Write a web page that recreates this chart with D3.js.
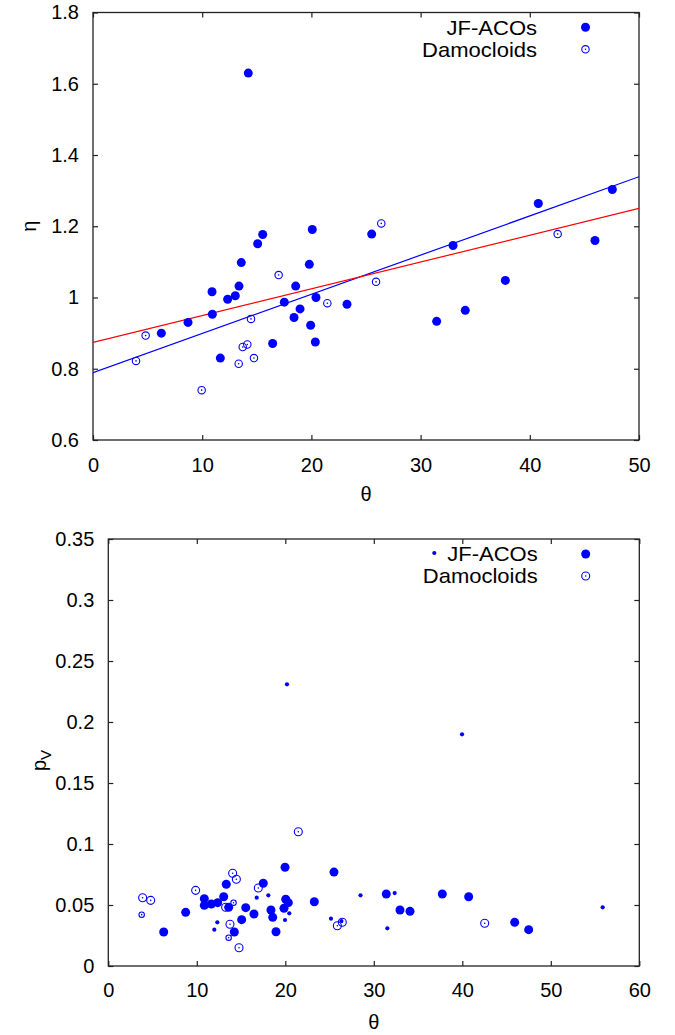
<!DOCTYPE html>
<html>
<head>
<meta charset="utf-8">
<script src="https://cdn.jsdelivr.net/npm/d3@7"></script>
<style>
  html, body { margin: 0; padding: 0; background: #fff; }
  svg { display: block; }
  text { font-family: "Liberation Sans", Arial, Helvetica, sans-serif; fill: #000; }
</style>
</head>
<body>
<svg id="fig" width="675" height="1035"></svg>
<script>
// ---- Upper panel: eta vs theta ----
const jfTheta = [6.26, 8.70, 10.90, 10.93, 11.66, 12.33, 13.03, 13.37, 13.58, 14.22, 15.08, 15.54, 16.45, 17.52, 18.41, 18.56, 18.96, 19.81, 19.93, 20.08, 20.36, 20.42, 23.26, 25.52, 31.47, 32.97, 34.09, 37.76, 40.78, 45.97, 47.56];
const jfEta   = [0.900, 0.930, 1.016, 0.953, 0.830, 0.995, 1.005, 1.032, 1.098, 1.630, 1.151, 1.177, 0.871, 0.987, 0.944, 1.032, 0.968, 1.093, 0.922, 1.191, 0.875, 1.000, 0.981, 1.178, 0.933, 1.146, 0.964, 1.048, 1.264, 1.160, 1.303];

const damTheta = [3.94, 4.82, 9.95, 13.34, 13.71, 14.13, 14.47, 14.74, 17.00, 21.46, 25.92, 26.40, 42.55];
const damEta   = [0.822, 0.893, 0.740, 0.814, 0.861, 0.868, 0.940, 0.830, 1.063, 0.984, 1.044, 1.208, 1.178];

// linear fits eta = a + b*theta
const fitNames      = ["all", "JF-ACOs"];
const fitIntercepts = [0.789, 0.874];
const fitSlopes     = [0.0110, 0.00752];
const fitColors     = ["#0000ff", "#ff0000"];

const etaTicks   = [0.6, 0.8, 1.0, 1.2, 1.4, 1.6, 1.8];
const thetaTicks1 = [0, 10, 20, 30, 40, 50];

// ---- Lower panel: albedo vs theta ----
const pvBigTheta = [6.26, 8.74, 10.85, 10.85, 11.64, 12.36, 13.04, 13.33, 13.60, 14.24, 15.07, 15.53, 16.46, 17.51, 18.38, 18.58, 18.95, 19.85, 19.97, 20.05, 20.34, 23.28, 25.50, 31.41, 32.96, 34.09, 37.74, 40.72, 45.92, 47.50];
const pvBig      = [0.0279, 0.0440, 0.0552, 0.0497, 0.0508, 0.0519, 0.0568, 0.0670, 0.0481, 0.0279, 0.0380, 0.0478, 0.0426, 0.0678, 0.0459, 0.0399, 0.0281, 0.0473, 0.0809, 0.0547, 0.0519, 0.0527, 0.0770, 0.0590, 0.0459, 0.0448, 0.0590, 0.0568, 0.0358, 0.0298];

const pvSmallTheta = [11.98, 12.32, 16.77, 18.08, 19.97, 20.19, 20.45, 25.16, 26.34, 28.50, 31.53, 32.36, 39.97, 55.86];
const pvSmall      = [0.0298, 0.0358, 0.0560, 0.0579, 0.0377, 0.2309, 0.0432, 0.0388, 0.0369, 0.0579, 0.0309, 0.0598, 0.1899, 0.0481];

const pvDamTheta = [3.88, 4.79, 9.87, 13.26, 13.75, 14.05, 14.47, 14.77, 16.95, 21.47, 25.88, 26.44, 42.53];
const pvDam      = [0.0560, 0.0538, 0.0620, 0.0481, 0.0342, 0.0760, 0.0711, 0.0150, 0.0639, 0.1101, 0.0330, 0.0358, 0.0350];

const pvDamSmallTheta = [3.77, 13.60, 14.15];
const pvDamSmall      = [0.0421, 0.0232, 0.0519];

const pvTicks     = [0, 0.05, 0.1, 0.15, 0.2, 0.25, 0.3, 0.35];
const thetaTicks2 = [0, 10, 20, 30, 40, 50, 60];

const legendLabels = ["JF-ACOs", "Damocloids"];

// ---- drawing ----
const BLUE = "#0000ff";
const FONT = 20;
const svg = d3.select("#fig");
const zip = (a, b) => a.map((v, i) => [v, b[i]]);

function frame(g, x, y, xTicks, yTicks, yFmt, xPad) {
  const [x0, x1] = x.range();
  const [y0, y1] = y.range();
  const tk = 5;
  const axL = g.append("g").attr("transform", `translate(${x0},0)`)
    .call(d3.axisLeft(y).tickValues(yTicks).tickSize(-tk).tickPadding(14).tickFormat(yFmt));
  const axR = g.append("g").attr("transform", `translate(${x1},0)`)
    .call(d3.axisRight(y).tickValues(yTicks).tickSize(-tk).tickFormat(""));
  const axB = g.append("g").attr("transform", `translate(0,${y0})`)
    .call(d3.axisBottom(x).tickValues(xTicks).tickSize(-tk).tickPadding(xPad).tickFormat(d3.format("d")));
  const axT = g.append("g").attr("transform", `translate(0,${y1})`)
    .call(d3.axisTop(x).tickValues(xTicks).tickSize(-tk).tickFormat(""));
  [axL, axR, axB, axT].forEach(a => {
    a.select(".domain").remove();
    a.selectAll("line").attr("stroke", "#222").attr("stroke-width", 1.2);
    a.selectAll("text").attr("font-size", FONT)
      .attr("font-family", "'Liberation Sans', Arial, Helvetica, sans-serif").attr("fill", "#000");
  });
  g.append("rect")
    .attr("x", x0).attr("y", y1).attr("width", x1 - x0).attr("height", y0 - y1)
    .attr("fill", "none").attr("stroke", "#222").attr("stroke-width", 1.3);
}

function filled(g, pts, x, y, r) {
  g.append("g").selectAll("circle").data(pts).join("circle")
    .attr("cx", d => x(d[0])).attr("cy", d => y(d[1])).attr("r", r).attr("fill", BLUE);
}
function ringed(g, pts, x, y, r) {
  const s = g.append("g").selectAll("g").data(pts).join("g")
    .attr("transform", d => `translate(${x(d[0])},${y(d[1])})`);
  s.append("circle").attr("r", r).attr("fill", "none").attr("stroke", BLUE).attr("stroke-width", 1.1);
  s.append("circle").attr("r", 0.8).attr("fill", BLUE);
}
// legend entry text: right-aligned, slightly wide glyphs
function legendText(g, xr, yb, label) {
  g.append("g").attr("transform", `translate(${xr},${yb}) scale(1.1,1)`)
    .append("text").attr("text-anchor", "end").attr("font-size", FONT).text(label);
}

const gnuFmt = d => d3.format("~g")(d);

// Upper panel
{
  const x = d3.scaleLinear().domain([0, 50]).range([93, 639]);
  const y = d3.scaleLinear().domain([0.6, 1.8]).range([440, 12.5]);
  const g = svg.append("g");
  frame(g, x, y, thetaTicks1, etaTicks, gnuFmt, 18);

  g.append("clipPath").attr("id", "clipTop")
    .append("rect").attr("x", 93).attr("y", 12.5).attr("width", 546).attr("height", 427.5);
  const fits = g.append("g").attr("clip-path", "url(#clipTop)");
  fitNames.forEach((n, i) => {
    const f = t => fitIntercepts[i] + fitSlopes[i] * t;
    fits.append("line")
      .attr("x1", x(0)).attr("y1", y(f(0))).attr("x2", x(50)).attr("y2", y(f(50)))
      .attr("stroke", fitColors[i]).attr("stroke-width", 1.2);
  });

  filled(g, zip(jfTheta, jfEta), x, y, 4.5);
  ringed(g, zip(damTheta, damEta), x, y, 3.7);

  // legend
  legendText(g, 537, 34.5, legendLabels[0]);
  legendText(g, 537, 56.5, legendLabels[1]);
  g.append("circle").attr("cx", 585.5).attr("cy", 27.3).attr("r", 4.5).attr("fill", BLUE);
  const lr = g.append("g").attr("transform", "translate(585.5,49.3)");
  lr.append("circle").attr("r", 3.7).attr("fill", "none").attr("stroke", BLUE).attr("stroke-width", 1.1);
  lr.append("circle").attr("r", 0.8).attr("fill", BLUE);

  g.append("text").attr("x", x(25)).attr("y", 501).attr("text-anchor", "middle").attr("font-size", FONT).text("θ");
  g.append("text").attr("transform", `translate(36,${(12.5 + 440) / 2}) rotate(-90)`)
    .attr("text-anchor", "middle").attr("font-size", FONT).text("η");
}

// Lower panel
{
  const x = d3.scaleLinear().domain([0, 60]).range([108.3, 639.3]);
  const y = d3.scaleLinear().domain([0, 0.35]).range([966, 539]);
  const g = svg.append("g");
  frame(g, x, y, thetaTicks2, pvTicks, gnuFmt, 17);

  filled(g, zip(pvBigTheta, pvBig), x, y, 4.5);
  filled(g, zip(pvSmallTheta, pvSmall), x, y, 2.1);
  ringed(g, zip(pvDamTheta, pvDam), x, y, 4.0);
  ringed(g, zip(pvDamSmallTheta, pvDamSmall), x, y, 2.7);

  // legend
  g.append("circle").attr("cx", 434.3).attr("cy", 553).attr("r", 2.1).attr("fill", BLUE);
  legendText(g, 537.7, 561, legendLabels[0]);
  legendText(g, 537.7, 583, legendLabels[1]);
  g.append("circle").attr("cx", 585.7).attr("cy", 554).attr("r", 4.5).attr("fill", BLUE);
  const lr = g.append("g").attr("transform", "translate(585.7,576)");
  lr.append("circle").attr("r", 4.0).attr("fill", "none").attr("stroke", BLUE).attr("stroke-width", 1.1);
  lr.append("circle").attr("r", 0.8).attr("fill", BLUE);

  g.append("text").attr("x", x(30)).attr("y", 1029).attr("text-anchor", "middle").attr("font-size", FONT).text("θ");
  const t = g.append("text").attr("transform", `translate(46,${(539 + 966) / 2 + 8}) rotate(-90)`)
    .attr("text-anchor", "middle").attr("font-size", FONT);
  t.append("tspan").text("p");
  t.append("tspan").attr("font-size", 15).attr("dy", 5).text("V");
}
</script>
</body>
</html>
